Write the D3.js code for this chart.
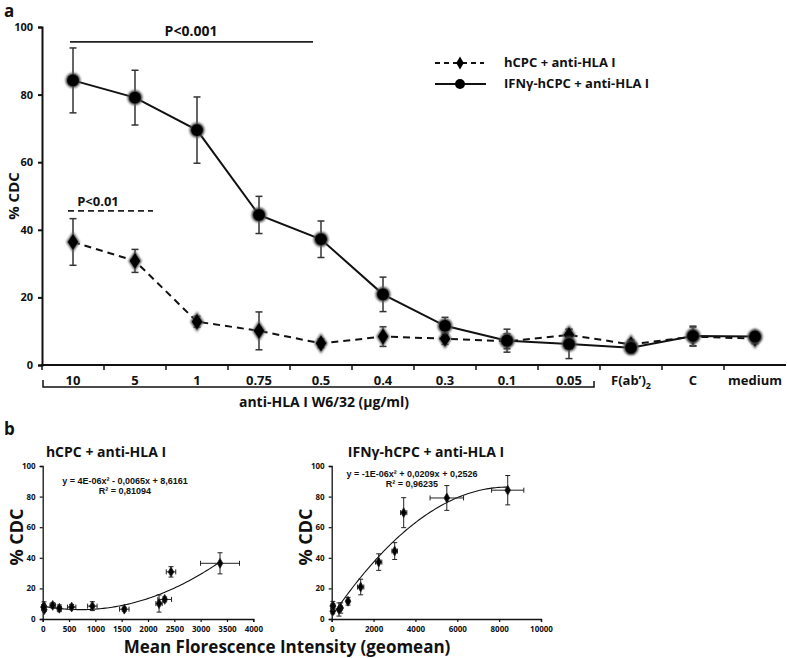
<!DOCTYPE html>
<html><head><meta charset="utf-8">
<script src="https://cdn.jsdelivr.net/npm/d3@7"></script>
<style>
body{margin:0;background:#fff;}
svg{display:block;}
text{font-family:"Open Sans","DejaVu Sans",sans-serif;font-weight:bold;fill:#111;}
.arial{font-family:"Liberation Sans",Arial,sans-serif;}
</style></head>
<body>
<svg id="chart" width="787" height="658"></svg>
<script>
// ---------- DATA ----------
const categories = ["10","5","1","0.75","0.5","0.4","0.3","0.1","0.05","F(ab')2","C","medium"];
const hcpcCDC   = [36.4, 30.8, 12.8, 10.1, 6.4, 8.4, 7.8, 7.0, 8.9, 6.1, 8.4, 7.8];
const hcpcErr   = [6.9, 3.4, 1.6, 5.6, 1.3, 2.9, 1.7, 2.2, 1.7, 1.3, 2.8, 1.5];
const ifnCDC    = [84.2, 79.1, 69.5, 44.4, 37.2, 20.9, 11.6, 7.2, 6.2, 5.1, 8.6, 8.4];
const ifnErr    = [9.6, 8.1, 9.8, 5.5, 5.4, 5.1, 2.5, 3.4, 4.3, 1.7, 2.9, 1.5];
const hcpcMFI    = [3368, 2437, 2317, 2210, 1550, 943, 550, 316, 190, 30, 25, 15];
const hcpcMFIErr = [370, 90, 130, 60, 90, 90, 80, 40, 50, 20, 20, 20];
const ifnMFI     = [8410, 5500, 3440, 3010, 2245, 1385, 780, 430, 350, 50, 55, 60];
const ifnMFIErr  = [770, 800, 150, 130, 150, 150, 80, 80, 70, 30, 30, 30];
const yTicksTop = [0, 20, 40, 60, 80, 100];
const yTicksBottom = [0, 20, 40, 60, 80, 100];
const xTicksLeft = [0, 500, 1000, 1500, 2000, 2500, 3000, 3500, 4000];
const xTicksRight = [0, 2000, 4000, 6000, 8000, 10000];
const sigLevels = [95.6, 45.6];
const eqLeft = ["y = 4E-06x\u00B2 - 0,0065x + 8,6161", "R\u00B2 = 0,81094"];
const eqRight = ["y = -1E-06x\u00B2 + 0,0209x + 0,2526", "R\u00B2 = 0,96235"];

const svg = d3.select("#chart");
const defs = svg.append("defs");
const f = defs.append("filter").attr("id","soft").attr("x","-50%").attr("y","-50%").attr("width","200%").attr("height","200%");
f.append("feGaussianBlur").attr("stdDeviation",0.9);

// ---------- PANEL A ----------
const x = d3.scaleBand().domain(categories).range([42, 786]);
const y = d3.scaleLinear().domain([0, 100]).range([365, 27]);
const cx = c => x(c) + x.bandwidth()/2;

svg.append("text").attr("x",4).attr("y",17).attr("font-size",17).text("a");

// y axis
const gy = svg.append("g").attr("transform","translate(42,0)")
  .call(d3.axisLeft(y).tickValues(yTicksTop).tickSize(4).tickPadding(5));
gy.select(".domain").attr("stroke","#111").attr("stroke-width",2);
gy.selectAll(".tick line").attr("stroke","#111").attr("stroke-width",2);
gy.selectAll(".tick text").attr("font-size",11).attr("font-family","'Open Sans',sans-serif").attr("font-weight","bold").attr("fill","#111");

// x axis
svg.append("line").attr("x1",41).attr("x2",786).attr("y1",365).attr("y2",365).attr("stroke","#111").attr("stroke-width",2);
categories.forEach(c => {
  svg.append("line").attr("x1",x(c)).attr("x2",x(c)).attr("y1",365).attr("y2",370).attr("stroke","#111").attr("stroke-width",1.5);
});
const xl = svg.append("g");
categories.forEach(c => {
  const t = xl.append("text").attr("x",cx(c)).attr("y",385).attr("text-anchor","middle").attr("font-size",13);
  if (c === "F(ab')2") {
    t.append("tspan").text("F(ab\u2019)");
    t.append("tspan").attr("font-size",9).attr("dy",4).text("2");
  } else t.text(c);
});
// bracket
const bx1 = x(categories[0]), bx2 = x(categories[8]) + x.bandwidth();
svg.append("path").attr("d",`M${bx1+1},380 V387 H${bx2-6} V381`).attr("fill","none").attr("stroke","#111").attr("stroke-width",1.5);
svg.append("text").attr("x",(bx1+bx2)/2+3).attr("y",407).attr("text-anchor","middle").attr("font-size",14).text("anti-HLA I W6/32 (\u03BCg/ml)");

svg.append("text").attr("transform","translate(19,196) rotate(-90)").attr("text-anchor","middle").attr("font-size",15).text("% CDC");

// significance
svg.append("line").attr("x1",70).attr("x2",313).attr("y1",y(sigLevels[0])).attr("y2",y(sigLevels[0])).attr("stroke","#222").attr("stroke-width",1.8);
svg.append("text").attr("x",191).attr("y",36).attr("text-anchor","middle").attr("font-size",14).text("P<0.001");
svg.append("line").attr("x1",68).attr("x2",153).attr("y1",y(sigLevels[1])).attr("y2",y(sigLevels[1])).attr("stroke","#222").attr("stroke-width",1.6).attr("stroke-dasharray","6,4");
svg.append("text").attr("x",98).attr("y",206).attr("text-anchor","middle").attr("font-size",13).text("P<0.01");

function errBars(g, vals, errs, color, w, cap) {
  vals.forEach((v,i) => {
    const px = cx(categories[i]);
    g.append("line").attr("x1",px).attr("x2",px).attr("y1",y(v+errs[i])).attr("y2",y(v-errs[i])).attr("stroke",color).attr("stroke-width",w);
    [v+errs[i], v-errs[i]].forEach(e => g.append("line").attr("x1",px-cap).attr("x2",px+cap).attr("y1",y(e)).attr("y2",y(e)).attr("stroke",color).attr("stroke-width",w));
  });
}
const gA = svg.append("g");
errBars(gA, hcpcCDC, hcpcErr, "#333", 1.5, 3.5);
errBars(gA, ifnCDC, ifnErr, "#333", 1.5, 3.5);

const line = d3.line().x((d,i)=>cx(categories[i])).y(d=>y(d));
gA.append("path").datum(hcpcCDC).attr("d",line).attr("fill","none").attr("stroke","#111").attr("stroke-width",2).attr("stroke-dasharray","7,5");
gA.append("path").datum(ifnCDC).attr("d",line).attr("fill","none").attr("stroke","#111").attr("stroke-width",2);

const diamond = d3.symbol().type(d3.symbolDiamond).size(95);
gA.selectAll(".dm").data(hcpcCDC).join("path").attr("class","dm")
  .attr("transform",(d,i)=>`translate(${cx(categories[i])},${y(d)}) scale(1.15,1)`).attr("d",diamond)
  .attr("fill","#111").attr("stroke","#666").attr("stroke-width",1.2).attr("filter","url(#soft)");
gA.selectAll(".dm2").data(hcpcCDC).join("path").attr("class","dm2")
  .attr("transform",(d,i)=>`translate(${cx(categories[i])},${y(d)}) scale(1.15,1)`).attr("d",d3.symbol().type(d3.symbolDiamond).size(70))
  .attr("fill","#000");
gA.selectAll(".ci").data(ifnCDC).join("circle").attr("class","ci")
  .attr("cx",(d,i)=>cx(categories[i])).attr("cy",d=>y(d)).attr("r",7)
  .attr("fill","#111").attr("stroke","#666").attr("stroke-width",1.2).attr("filter","url(#soft)");
gA.selectAll(".ci2").data(ifnCDC).join("circle").attr("class","ci2")
  .attr("cx",(d,i)=>cx(categories[i])).attr("cy",d=>y(d)).attr("r",5.8).attr("fill","#000");

// legend
const lg = svg.append("g");
lg.append("line").attr("x1",435).attr("x2",484).attr("y1",63).attr("y2",63).attr("stroke","#111").attr("stroke-width",2).attr("stroke-dasharray","5,4");
lg.append("path").attr("transform","translate(460,63)").attr("d",d3.symbol().type(d3.symbolDiamond).size(50)).attr("fill","#000");
lg.append("line").attr("x1",435).attr("x2",486).attr("y1",84).attr("y2",84).attr("stroke","#111").attr("stroke-width",2);
lg.append("circle").attr("cx",460).attr("cy",84).attr("r",5).attr("fill","#000");
lg.append("text").attr("x",504).attr("y",67).attr("font-size",13).text("hCPC + anti-HLA I");
lg.append("text").attr("x",504).attr("y",88).attr("font-size",13).text("IFN\u03B3-hCPC + anti-HLA I");

// ---------- PANEL B ----------
svg.append("text").attr("x",4).attr("y",435).attr("font-size",17).text("b");

function quadFit(xs, ys) {
  let S = [[0,0,0],[0,0,0],[0,0,0]], B = [0,0,0];
  xs.forEach((xv,i) => {
    const p = [1, xv, xv*xv];
    for (let r=0;r<3;r++){ for (let c=0;c<3;c++) S[r][c]+=p[r]*p[c]; B[r]+=p[r]*ys[i]; }
  });
  const M = S.map((r,i)=>[...r, B[i]]);
  for (let i=0;i<3;i++){
    let mx=i; for(let k=i+1;k<3;k++) if(Math.abs(M[k][i])>Math.abs(M[mx][i])) mx=k;
    [M[i],M[mx]]=[M[mx],M[i]];
    for (let k=i+1;k<3;k++){ const fct=M[k][i]/M[i][i]; for(let j=i;j<4;j++) M[k][j]-=fct*M[i][j]; }
  }
  const c=[0,0,0];
  for (let i=2;i>=0;i--){ let s=M[i][3]; for(let j=i+1;j<3;j++) s-=M[i][j]*c[j]; c[i]=s/M[i][i]; }
  return xv => c[0]+c[1]*xv+c[2]*xv*xv;
}

function scatterPanel(opt) {
  const sx = d3.scaleLinear().domain(opt.xdom).range(opt.xr);
  const sy = d3.scaleLinear().domain([0,100]).range([619, 466]);
  const g = svg.append("g");
  const ax = g.append("g").attr("transform","translate(0,619)")
    .call(d3.axisBottom(sx).tickValues(opt.xticks).tickSize(3).tickPadding(4).tickFormat(d3.format("d")));
  const ay = g.append("g").attr("transform",`translate(${opt.xr[0]},0)`)
    .call(d3.axisLeft(sy).tickValues(yTicksBottom).tickSize(3).tickPadding(4));
  [ax, ay].forEach(a => {
    a.select(".domain").attr("stroke","#111").attr("stroke-width",1.3);
    a.selectAll(".tick line").attr("stroke","#111").attr("stroke-width",1.2);
    a.selectAll(".tick text").attr("font-size",8).attr("font-family","'Liberation Sans',Arial,sans-serif").attr("font-weight","bold").attr("fill","#111");
  });
  // trendline (least-squares quadratic of the data)
  const fit = quadFit(opt.xs, opt.ys);
  const [mn, mx] = d3.extent(opt.xs);
  const pts = d3.range(0, 101).map(k => mn + (mx - mn) * k / 100);
  g.append("path").datum(pts).attr("d", d3.line().x(d=>sx(d)).y(d=>sy(fit(d))))
    .attr("fill","none").attr("stroke","#111").attr("stroke-width",1.1);
  // error bars
  opt.xs.forEach((xv,i) => {
    const px = sx(xv), py = sy(opt.ys[i]);
    const ye = opt.ye[i], xe = opt.xe[i];
    g.append("line").attr("x1",px).attr("x2",px).attr("y1",sy(opt.ys[i]+ye)).attr("y2",sy(opt.ys[i]-ye)).attr("stroke","#222").attr("stroke-width",1);
    [opt.ys[i]+ye, opt.ys[i]-ye].forEach(e => g.append("line").attr("x1",px-2.5).attr("x2",px+2.5).attr("y1",sy(e)).attr("y2",sy(e)).attr("stroke","#222").attr("stroke-width",1));
    g.append("line").attr("x1",sx(xv-xe)).attr("x2",sx(xv+xe)).attr("y1",py).attr("y2",py).attr("stroke","#222").attr("stroke-width",1);
    [xv-xe, xv+xe].forEach(e => g.append("line").attr("x1",sx(e)).attr("x2",sx(e)).attr("y1",py-2.5).attr("y2",py+2.5).attr("stroke","#222").attr("stroke-width",1));
  });
  g.selectAll(".pt").data(opt.xs).join("path").attr("class","pt")
    .attr("transform",(d,i)=>`translate(${sx(d)},${sy(opt.ys[i])})`)
    .attr("d", d3.symbol().type(d3.symbolDiamond).size(28)).attr("fill","#000").attr("stroke","#222").attr("stroke-width",0.8);
  g.append("text").attr("x",opt.titleX).attr("y",457).attr("text-anchor","middle").attr("font-size",14).text(opt.title);
  g.append("text").attr("class","arial").attr("x",opt.eqX).attr("y",opt.eqY).attr("text-anchor","middle").attr("font-size",9).text(opt.eq[0]);
  g.append("text").attr("class","arial").attr("x",opt.eqX).attr("y",opt.eqY+10).attr("text-anchor","middle").attr("font-size",9).text(opt.eq[1]);
  g.append("text").attr("transform",`translate(${opt.xr[0]-20},537) rotate(-90)`).attr("text-anchor","middle").attr("font-size",18).text("% CDC");
}

scatterPanel({xdom:[0,4000], xr:[42.7,253.3], xticks:xTicksLeft, xs:hcpcMFI, ys:hcpcCDC, xe:hcpcMFIErr, ye:hcpcErr,
  title:"hCPC + anti-HLA I", titleX:106, eq:eqLeft, eqX:125, eqY:484});
scatterPanel({xdom:[0,10000], xr:[331.7,541], xticks:xTicksRight, xs:ifnMFI, ys:ifnCDC, xe:ifnMFIErr, ye:ifnErr,
  title:"IFN\u03B3-hCPC + anti-HLA I", titleX:426, eq:eqRight, eqX:412, eqY:477});

svg.append("text").attr("x",287).attr("y",653).attr("text-anchor","middle").attr("font-size",17).text("Mean Florescence Intensity (geomean)");
</script>
</body></html>
